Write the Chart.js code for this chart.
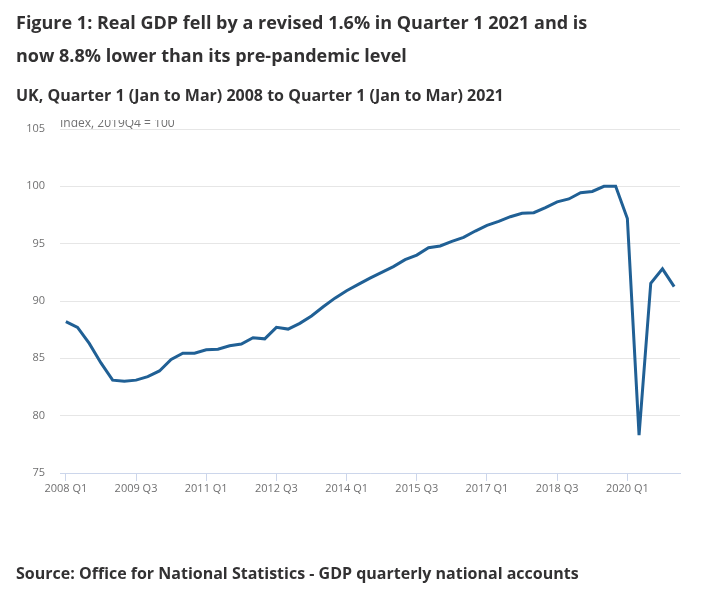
<!DOCTYPE html>
<html>
<head>
<meta charset="utf-8">
<script src="https://cdn.jsdelivr.net/npm/chart.js@4.4.1/dist/chart.umd.min.js"></script>
<style>
  body { margin: 0; background: #fff; font-family: "Open Sans", sans-serif; color: #323132; }
  #wrap { position: relative; width: 702px; height: 593px; overflow: hidden; }
  #myChart { position: absolute; left: 0; top: 0; }
  .title { position: absolute; left: 16px; top: 6px; width: 590px; font-size: 18px; font-weight: 700; line-height: 33px; }
  .subtitle { position: absolute; left: 16px; top: 84px; font-size: 16px; font-weight: 700; }
  .source { position: absolute; left: 16px; top: 562px; font-size: 16px; font-weight: 700; }
</style>
</head>
<body>
<div id="wrap">
  <canvas id="myChart" width="702" height="593"></canvas>
  <div class="title">Figure 1: Real GDP fell by a revised 1.6% in Quarter 1 2021 and is now 8.8% lower than its pre-pandemic level</div>
  <div class="subtitle">UK, Quarter 1 (Jan to Mar) 2008 to Quarter 1 (Jan to Mar) 2021</div>
  <div class="source">Source: Office for National Statistics - GDP quarterly national accounts</div>
</div>
<script>
  // quarters 2008 Q1 .. 2021 Q1
  const quarters = [
    '2008 Q1', '2008 Q2', '2008 Q3', '2008 Q4',
    '2009 Q1', '2009 Q2', '2009 Q3', '2009 Q4',
    '2010 Q1', '2010 Q2', '2010 Q3', '2010 Q4',
    '2011 Q1', '2011 Q2', '2011 Q3', '2011 Q4',
    '2012 Q1', '2012 Q2', '2012 Q3', '2012 Q4',
    '2013 Q1', '2013 Q2', '2013 Q3', '2013 Q4',
    '2014 Q1', '2014 Q2', '2014 Q3', '2014 Q4',
    '2015 Q1', '2015 Q2', '2015 Q3', '2015 Q4',
    '2016 Q1', '2016 Q2', '2016 Q3', '2016 Q4',
    '2017 Q1', '2017 Q2', '2017 Q3', '2017 Q4',
    '2018 Q1', '2018 Q2', '2018 Q3', '2018 Q4',
    '2019 Q1', '2019 Q2', '2019 Q3', '2019 Q4',
    '2020 Q1', '2020 Q2', '2020 Q3', '2020 Q4',
    '2021 Q1'
  ];

  // real GDP index, 2019Q4 = 100
  const gdpIndex = [
    88.2, 87.7, 86.3, 84.6,
    83.1, 83.0, 83.1, 83.4,
    83.9, 84.9, 85.45, 85.45,
    85.75, 85.8, 86.1, 86.25,
    86.8, 86.7, 87.7, 87.55,
    88.05, 88.7, 89.5, 90.25,
    90.9, 91.45, 92.0, 92.5,
    93.0, 93.6, 94.0, 94.65,
    94.8, 95.2, 95.55, 96.1,
    96.6, 96.95, 97.35, 97.65,
    97.7, 98.15, 98.65, 98.9,
    99.45, 99.55, 100.0, 100.0,
    97.2, 78.3, 91.55, 92.8,
    91.25
  ];

  const tickLabels = ['2008 Q1', '2009 Q3', '2011 Q1', '2012 Q3', '2014 Q1', '2015 Q3', '2017 Q1', '2018 Q3', '2020 Q1'];
  const yTicks = [75, 80, 85, 90, 95, 100, 105];
  const unitLabel = 'Index, 2019Q4 = 100';

  // draws the small unit label above the plot, cut off at the top like the original
  const unitLabelPlugin = {
    id: 'unitLabel',
    afterDraw(chart) {
      const c = chart.ctx;
      const area = chart.chartArea;
      c.save();
      c.beginPath();
      c.rect(0, area.top - 9, chart.width, 30);
      c.clip();
      c.font = '12px "Open Sans"';
      c.fillStyle = '#707071';
      c.textBaseline = 'alphabetic';
      c.fillText(unitLabel, area.left, area.top - 2);
      c.restore();
    }
  };

  const data = {
    labels: quarters,
    datasets: [{
      label: 'GDP',
      data: gdpIndex,
      borderColor: '#206095',
      borderWidth: 3,
      pointRadius: 0,
      tension: 0,
      fill: false
    }]
  };

  const config = {
    type: 'line',
    data,
    plugins: [unitLabelPlugin],
    options: {
      responsive: false,
      animation: false,
      layout: { padding: { left: 0, right: 22, top: 129, bottom: 0 } },
      plugins: {
        legend: { display: false },
        tooltip: { enabled: false }
      },
      scales: {
        x: {
          offset: true,
          grid: {
            offset: false,
            drawOnChartArea: false,
            drawTicks: true,
            tickLength: 8,
            color: '#ccd6eb'
          },
          border: { color: '#ccd6eb' },
          ticks: {
            autoSkip: false,
            maxRotation: 0,
            padding: 1,
            color: '#707071',
            font: { family: 'Open Sans', size: 11 },
            callback: function (v) {
              const lab = this.getLabelForValue(v);
              return tickLabels.includes(lab) ? lab : null;
            }
          },
          afterFit: (scale) => { scale.height = 120; }
        },
        y: {
          min: yTicks[0],
          max: yTicks[yTicks.length - 1],
          grid: { color: '#e6e6e6', drawTicks: false },
          border: { display: false },
          ticks: {
            stepSize: 5,
            padding: 15,
            color: '#707071',
            font: { family: 'Open Sans', size: 11 }
          },
          afterFit: (scale) => { scale.width = 60; }
        }
      }
    }
  };

  const ctx = document.getElementById('myChart');
  const myChart = new Chart(ctx, config);
</script>
</body>
</html>
